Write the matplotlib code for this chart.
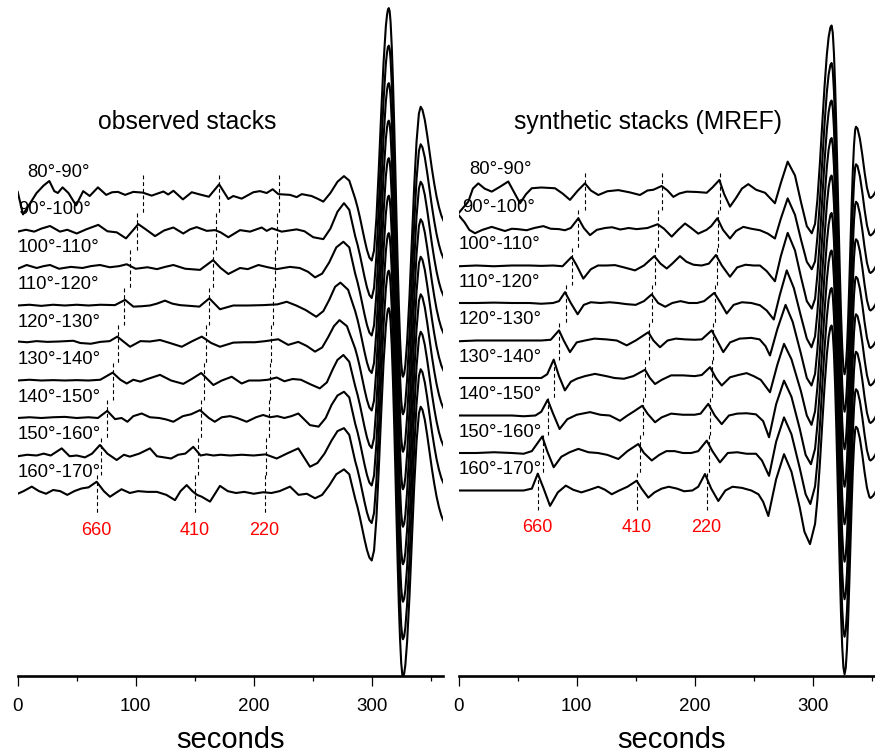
import matplotlib
matplotlib.use("Agg")
import matplotlib.pyplot as plt
import numpy as np

plt.rcParams['font.family'] = ['Liberation Sans', 'DejaVu Sans']

# ---------------- data (time in s, amplitude in trace-spacing units) ----------------
bands = ["80°-90°", "90°-100°", "100°-110°", "110°-120°", "120°-130°",
         "130°-140°", "140°-150°", "150°-160°", "160°-170°"]
phase_names = ["660", "410", "220"]

# observed stacks: wiggles before the main arrival (time, amplitude)
obs_80_90 = [(0, 0.03), (4.5, -0.57), (10, -0.3), (16, 0.0), (22, 0.2), (26.8, 0.32), (31, 0.05),
             (34, 0.0), (38, 0.15), (43, 0.0), (49.5, -0.33), (55.5, 0.05), (61, -0.08), (68, 0.15),
             (75, -0.05), (80, 0.02), (85, 0.03), (91, -0.05), (98, 0.03), (106, 0.01), (113.5, -0.07),
             (123.5, 0.04), (127.5, -0.04), (132, 0.06), (140, -0.17), (147.5, 0.02), (154.5, -0.04),
             (162, -0.1), (170.7, 0.23), (178.5, -0.16), (182.7, -0.08), (189.8, -0.15), (199.7, 0.02),
             (205.3, 0.05), (211, 0.0), (216.1, 0.1), (220.9, -0.03), (230.8, -0.05), (236.4, -0.11),
             (240.7, -0.03), (249, -0.08), (254, -0.15), (259, -0.23), (265, 0.0), (271, 0.3),
             (276.5, 0.45), (281, 0.33)]
obs_90_100 = [(0, -0.03), (7, 0.02), (14, -0.03), (20, 0.05), (27.4, 0.12), (35.8, -0.03), (42, 0.02),
              (50, -0.08), (58, 0.03), (68.3, 0.15), (76, -0.02), (84, -0.05), (91.8, -0.21), (102.2, 0.17),
              (109, 0.02), (116.4, -0.15), (124, 0.0), (131.9, 0.08), (140.3, -0.08), (146, 0.03),
              (151.7, 0.09), (160.2, -0.01), (167.2, 0.01), (172, -0.05), (178.5, -0.18), (188.4, 0.01),
              (196.9, -0.03), (206.8, 0.08), (211, -0.01), (215.3, 0.06), (223.7, -0.03), (236.4, 0.03),
              (243, -0.02), (250.5, -0.18), (259, -0.23), (265, 0.05), (271, 0.5), (276.5, 0.73),
              (281, 0.55)]
obs_100_110 = [(0, -0.02), (7.6, 0.08), (16.1, 0.0), (22, 0.05), (27.4, 0.08), (35, -0.02), (45, 0.03),
               (55, 0.0), (62, 0.05), (69.7, 0.08), (78, 0.02), (86, 0.05), (92.4, 0.1), (100, -0.02),
               (110, 0.02), (118, -0.03), (125, 0.03), (131.9, 0.08), (142, -0.02), (154.5, -0.05),
               (165.6, 0.21), (172, 0.0), (178.5, -0.16), (188.4, 0.0), (195, -0.03), (204, 0.08),
               (212, 0.02), (219.5, -0.03), (225, 0.0), (230.8, 0.03), (239, 0.0), (246, -0.1),
               (252, -0.25), (258, -0.15), (264, 0.15), (270, 0.55), (276, 0.7), (281, 0.55)]
obs_110_120 = [(0, 0.0), (10, 0.02), (20, -0.01), (30, 0.02), (40, 0.0), (50, 0.02), (60, 0.0),
               (70, 0.02), (82.4, 0.01), (91, 0.15), (98, -0.03), (105, -0.02), (112, 0.0), (118, 0.05),
               (124.8, 0.13), (131, 0.05), (137.5, 0.01), (146, -0.01), (154, -0.03), (162.4, 0.19),
               (171.4, -0.1), (182.7, 0.0), (195, 0.0), (208, 0.01), (220, 0.03), (228, 0.1), (236, 0.0),
               (244, -0.12), (253, -0.3), (259, -0.15), (264, 0.15), (269, 0.5), (273.5, 0.61),
               (280, 0.42)]
obs_120_130 = [(0, 0.04), (8, 0.02), (16, 0.05), (25, 0.03), (35, 0.04), (47.1, 0.06), (53, 0.0),
               (62, -0.02), (70, 0.03), (78, 0.05), (84.4, 0.17), (95.2, -0.1), (104, 0.05), (112, 0.04),
               (120.6, 0.08), (129, 0.0), (139, -0.1), (148, 0.05), (156, 0.17), (164, 0.0), (171.4, -0.1),
               (182.7, 0.01), (192, 0.02), (201, 0.02), (210, 0.05), (220.8, 0.1), (229.3, -0.05),
               (237.8, 0.03), (245, -0.08), (252, -0.23), (258, -0.12), (263, 0.15), (268, 0.45),
               (272.7, 0.61), (279, 0.45)]
obs_130_140 = [(0, 0.0), (10, 0.02), (20, 0.0), (30, 0.01), (40, 0.0), (50, 0.01), (60, 0.0), (70, 0.02),
               (80.5, 0.21), (87, 0.02), (92.4, -0.08), (98, 0.02), (104, -0.03), (110, 0.04),
               (120.6, 0.15), (130, 0.0), (140.3, -0.09), (148, 0.05), (155.5, 0.2), (165.8, -0.12),
               (173, 0.0), (181.4, 0.1), (189.8, -0.08), (196, 0.0), (205, 0.0), (212, 0.02),
               (219.5, 0.08), (226, -0.02), (233, 0.04), (240, 0.02), (248, -0.1), (256, -0.21),
               (262, -0.05), (267, 0.3), (271, 0.55), (276, 0.68), (281, 0.5)]
obs_140_150 = [(0, 0.0), (10, 0.02), (20, 0.0), (30, 0.02), (40, 0.03), (50, 0.0), (60, 0.02), (68, 0.0),
               (75.9, 0.19), (82.5, -0.03), (88, 0.0), (93, -0.1), (98, 0.05), (105.1, 0.12), (112, 0.02),
               (120, 0.0), (126, -0.04), (131.9, -0.1), (140, 0.05), (147, 0.1), (154.5, 0.21), (162, 0.0),
               (167, -0.1), (173, 0.02), (180, 0.05), (186, 0.0), (194, -0.1), (202, 0.02), (208, 0.08),
               (214, 0.02), (220, 0.05), (226, 0.0), (232, 0.05), (237.8, 0.12), (247.7, -0.19),
               (255, -0.23), (261, 0.0), (266, 0.35), (271, 0.6), (276.5, 0.7), (281, 0.55)]
obs_150_160 = [(0, -0.02), (8, 0.02), (16, 0.0), (22, 0.05), (28, 0.0), (37.3, 0.19), (44, -0.02),
               (50, 0.0), (57, -0.05), (63, 0.05), (69.7, 0.28), (76, 0.05), (83.9, -0.12), (90, 0.02),
               (95, -0.03), (103, 0.05), (112.1, 0.19), (118, -0.02), (124, -0.05), (130, -0.08),
               (136, 0.02), (142, 0.05), (148.8, 0.23), (155, 0.0), (160, 0.03), (166, 0.0), (172, 0.02),
               (180, 0.0), (190, 0.02), (200, 0.0), (210, 0.03), (219.5, -0.08), (228, 0.05),
               (237.8, 0.19), (247.7, -0.3), (254, -0.2), (260, 0.05), (266, 0.4), (271, 0.65),
               (276.5, 0.73), (281, 0.55)]
obs_160_170 = [(0, -0.02), (5, 0.05), (11.9, 0.17), (18, 0.05), (24, -0.02), (30, 0.08), (36, 0.05),
               (42, -0.05), (48, 0.05), (54, 0.12), (60, 0.15), (66.9, 0.3), (73, 0.05), (78.2, -0.1),
               (84, 0.02), (88, 0.1), (95, 0.0), (102, 0.05), (110, 0.03), (118, 0.03), (126, -0.05),
               (133.3, -0.19), (138, 0.05), (143.2, 0.21), (148, 0.05), (152, -0.05), (156, -0.1),
               (163, -0.23), (171.4, 0.19), (178, 0.05), (185, 0.0), (192, 0.03), (200, -0.02),
               (208, 0.02), (215, 0.0), (222, 0.05), (230.8, 0.17), (238, -0.05), (245, -0.02),
               (252, -0.14), (258, -0.05), (264, 0.2), (270, 0.5), (276.5, 0.63), (281, 0.5)]

# observed: common main arrival
obs_main_t = [286, 288, 290, 292, 294, 296, 298, 300, 302, 304, 306, 308, 310, 312, 313, 313.75, 314.5,
              315.25, 316, 317, 318, 319, 320, 321, 322, 323, 324, 325, 326, 326.5, 327.5, 328.5, 330,
              332, 334, 336, 338, 340, 341.5, 343, 345, 347, 349, 351, 353, 355, 357, 359, 361, 363]
obs_main_v = [-0.15, -0.38, -0.65, -0.95, -1.25, -1.52, -1.72, -1.8, -1.53, -0.67, 0.64, 2.09, 3.45,
              4.45, 4.75, 4.89, 4.93, 4.84, 4.56, 3.91, 3.01, 1.9, 0.66, -0.63, -1.87, -2.98, -3.88,
              -4.53, -4.86, -4.9, -4.82, -4.59, -3.97, -2.77, -1.3, 0.17, 1.37, 2.12, 2.3, 2.22, 1.95,
              1.55, 1.1, 0.65, 0.25, -0.1, -0.38, -0.6, -0.75, -0.85]

# synthetic stacks (MREF)
syn_80_90 = [(0, -0.6), (4, -0.45), (8.1, -0.3), (12, 0.05), (16.6, 0.19), (22, 0.05), (28, -0.03),
             (35, 0.1), (42, 0.24), (47, -0.05), (52, -0.34), (57, -0.1), (61.9, 0.06), (70, 0.08),
             (81.6, 0.06), (88, -0.08), (94.3, -0.25), (101, 0.0), (107, 0.19), (112, 0.0),
             (118.3, -0.12), (126, -0.02), (135.3, 0.01), (145, -0.05), (153.6, -0.12), (160, 0.0),
             (165, 0.02), (172, 0.12), (177, 0.0), (181.9, -0.17), (187, -0.08), (193.2, -0.03),
             (202, -0.04), (210.2, -0.06), (215, 0.08), (220.9, 0.28), (225, -0.1), (229.9, -0.43),
             (235, -0.2), (240, 0.05), (245.4, 0.17), (252, 0.02), (259.6, -0.06), (268, -0.34),
             (273, 0.2), (278.8, 0.77), (285, 0.4), (290, -0.3), (295, -0.95), (299.2, -1.14)]
syn_90_100 = [(0, 0.34), (5, 0.15), (9, -0.05), (13.8, -0.14), (20, -0.05), (28, 0.03), (33, -0.02),
              (39.2, -0.08), (45, -0.02), (50, -0.03), (57.6, -0.06), (64, 0.0), (71.7, 0.05), (78, -0.02),
              (85, -0.03), (90, -0.06), (95, 0.0), (101.4, 0.26), (106, 0.0), (111.3, -0.19), (117, -0.05),
              (124, 0.0), (130, 0.02), (137, -0.04), (144, 0.0), (150.8, -0.03), (160, 0.0),
              (168.6, 0.1), (174, -0.02), (180.5, -0.23), (186, -0.05), (191.8, 0.12), (197, 0.0),
              (203, -0.15), (210, -0.05), (214, 0.05), (219.2, 0.26), (224, -0.05), (229.9, -0.28),
              (235, -0.08), (241.2, 0.03), (248, -0.02), (255.3, -0.06), (262, -0.15), (268, -0.28),
              (273, 0.25), (278.8, 0.79), (285, 0.35), (290, -0.3), (295, -0.9), (299.2, -1.1)]
syn_100_110 = [(0, -0.02), (15, 0.0), (30, -0.02), (45, 0.0), (60, 0.0), (70, -0.01), (80, 0.0),
               (88, -0.02), (95.8, 0.23), (100, 0.0), (105.6, -0.35), (112, -0.1), (118, 0.0), (125, 0.0),
               (132.5, 0.01), (140, -0.05), (149.4, -0.13), (157, 0.0), (165.8, 0.25), (171, 0.05),
               (176.3, -0.08), (181, 0.05), (187.5, 0.25), (193, 0.1), (199, 0.02), (205.9, 0.0),
               (212, 0.05), (218, 0.28), (223, 0.0), (229.9, -0.3), (236, -0.05), (243, 0.02), (250, 0.0),
               (255.3, 0.0), (261, -0.15), (268, -0.42), (273, 0.25), (278.8, 0.87), (285, 0.4),
               (290, -0.3), (295, -0.95), (299.2, -1.15)]
syn_110_120 = [(0, 0.0), (15, 0.0), (30, 0.01), (45, 0.0), (60, 0.0), (70, -0.02), (80, 0.0), (85, 0.05),
               (90.1, 0.29), (95, 0.0), (100.8, -0.3), (106, -0.05), (112, 0.02), (120, 0.0), (128, 0.02),
               (135, 0.0), (142, -0.03), (150, -0.05), (157, 0.05), (163.6, 0.23), (169, 0.0), (175, -0.1),
               (181, 0.0), (188, 0.05), (195, 0.0), (202, 0.0), (208, 0.05), (216.6, 0.27), (222, 0.0),
               (227.1, -0.28), (233, -0.05), (240, 0.02), (248, 0.0), (255.3, -0.06), (261, -0.2),
               (267, -0.44), (272, 0.2), (278, 0.87), (284, 0.4), (290, -0.35), (295, -0.95), (299, -1.18)]
syn_120_130 = [(0, -0.02), (15, 0.0), (30, 0.0), (45, 0.0), (60, 0.0), (70, 0.0), (78, 0.02), (85, 0.27),
               (89, 0.0), (94.3, -0.31), (100, -0.05), (107, 0.0), (115, 0.05), (125, 0.03), (134, 0.0),
               (142.4, -0.13), (150, 0.0), (160.7, 0.22), (165, 0.0), (170.6, -0.18), (177, 0.0),
               (184, 0.05), (192, 0.03), (200, 0.02), (206, 0.03), (214.4, 0.27), (219, 0.0),
               (224.2, -0.31), (230, -0.05), (238, 0.05), (248, 0.07), (255, 0.03), (260, -0.15),
               (263.8, -0.4), (270, 0.3), (277, 0.95), (283, 0.5), (290, -0.35), (295, -1.0), (299, -1.2)]
syn_130_140 = [(0, 0.0), (15, 0.0), (30, 0.0), (45, 0.0), (60, 0.0), (70, 0.0), (75, 0.1), (80.5, 0.49),
               (85, 0.05), (90, -0.33), (95, -0.1), (100, -0.02), (107, 0.05), (115.5, 0.11), (125, 0.05),
               (132, 0.0), (140, -0.02), (148, 0.05), (157.9, 0.22), (162, 0.0), (166.4, -0.16),
               (172, -0.05), (180, 0.07), (190, 0.07), (200, 0.05), (206, 0.08), (213, 0.29), (218, 0.0),
               (222.9, -0.2), (230, 0.02), (237, 0.08), (244, 0.13), (250, 0.05), (256, -0.05),
               (263.8, -0.38), (270, 0.35), (275.7, 0.91), (282, 0.5), (290, -0.35), (295, -1.0),
               (299, -1.25)]
syn_140_150 = [(0, 0.0), (15, 0.0), (30, 0.0), (45, 0.0), (55, -0.02), (65, 0.0), (70, 0.1), (75.4, 0.42),
               (80, 0.05), (85.5, -0.36), (92, -0.1), (100, 0.02), (111.3, 0.09), (120, 0.02), (128, 0.0),
               (136.7, -0.14), (143, 0.0), (149, 0.12), (155.6, 0.26), (160, 0.05), (166.4, -0.18),
               (172, -0.05), (180, 0.05), (190, 0.02), (200, 0.02), (205, 0.05), (211.5, 0.31), (217, 0.0),
               (222.9, -0.23), (229, 0.0), (236, 0.05), (244, 0.06), (252, 0.03), (258, -0.15),
               (263, -0.58), (269, 0.3), (275.7, 0.93), (282, 0.5), (289, -0.35), (294, -1.05),
               (298.5, -1.3)]
syn_150_160 = [(0, 0.0), (15, 0.0), (30, 0.02), (45, 0.0), (55, -0.02), (62, 0.05), (70.8, 0.44),
               (75, 0.05), (80.5, -0.38), (87, -0.1), (94, 0.02), (101.4, 0.11), (110, 0.02), (118, 0.0),
               (126, -0.05), (135.3, -0.16), (143, 0.05), (152.2, 0.24), (157, 0.0), (163.6, -0.2),
               (170, -0.05), (176, 0.05), (183, 0.05), (190, 0.0), (197, 0.0), (203, 0.05), (210.2, 0.33),
               (215, 0.05), (221.4, -0.25), (228, 0.0), (236, 0.02), (244, -0.02), (252, -0.02),
               (257, -0.2), (263, -0.61), (269, 0.3), (275.7, 0.95), (282, 0.5), (289, -0.4), (294, -1.1),
               (298, -1.36)]
syn_160_170 = [(0, 0.0), (15, 0.0), (30, 0.0), (45, 0.0), (55, 0.0), (62, 0.05), (67, 0.45), (72, 0.05),
               (77.4, -0.41), (84, -0.05), (90.8, 0.13), (97, 0.02), (104, -0.05), (111, 0.02),
               (118.3, 0.1), (124, 0.02), (129.7, -0.1), (136, 0.0), (143, 0.1), (150.8, 0.26),
               (155, 0.05), (160.7, -0.19), (166, -0.05), (172, 0.05), (178, 0.1), (185, 0.05),
               (191, -0.02), (198, 0.0), (203, 0.1), (208.7, 0.44), (214, 0.05), (220, -0.28), (226, 0.0),
               (232, 0.1), (240, 0.07), (248, 0.0), (254, -0.1), (258, -0.3), (262.4, -0.68), (269, 0.3),
               (275.7, 0.97), (282, 0.5), (289, -0.45), (293, -1.1), (297.7, -1.43)]

syn_main_t = [302, 304, 306, 308, 310, 312, 313.5, 315, 316, 317, 318, 319, 320, 321, 322, 323, 324, 325,
              326, 327, 328, 329, 330, 331, 332, 333, 334, 335, 336, 336.7, 338, 340, 342, 344, 346, 348,
              349, 351, 353, 355, 358, 362]
syn_main_v = [-0.89, -0.24, 0.68, 1.73, 2.76, 3.63, 4.09, 4.35, 4.4, 4.21, 3.66, 2.8, 1.68, 0.41, -0.91,
              -2.18, -3.3, -4.16, -4.71, -4.9, -4.73, -4.24, -3.47, -2.5, -1.44, -0.4, 0.52, 1.21, 1.62,
              1.7, 1.65, 1.38, 0.96, 0.48, 0.07, -0.17, -0.2, -0.15, -0.05, 0.1, 0.3, 0.5]

# picked arrival times (s) of the 660, 410 and 220 phases, per distance band
obs_p660 = [106.2, 101.2, 95.2, 90.1, 85.0, 80.4, 75.6, 71.0, 66.9]
obs_p410 = [170.8, 168.3, 165.4, 162.3, 159.8, 158.1, 155.2, 152.7, 150.4]
obs_p220 = [221.2, 219.8, 218.4, 216.7, 215.0, 214.2, 212.7, 210.8, 209.3]
syn_p660 = [107.0, 101.5, 95.9, 90.8, 85.4, 80.6, 76.0, 71.2, 67.0]
syn_p410 = [171.9, 168.8, 166.2, 164.0, 161.1, 158.3, 156.0, 153.4, 151.2]
syn_p220 = [221.6, 219.8, 218.7, 217.3, 215.6, 214.5, 213.0, 211.7, 210.0]

obs_traces = [obs_80_90, obs_90_100, obs_100_110, obs_110_120, obs_120_130,
              obs_130_140, obs_140_150, obs_150_160, obs_160_170]
syn_traces = [syn_80_90, syn_90_100, syn_100_110, syn_110_120, syn_120_130,
              syn_130_140, syn_140_150, syn_150_160, syn_160_170]

# ---------------- figure ----------------
W, H = 875, 754
fig = plt.figure(figsize=(W / 100, H / 100), dpi=100)

PX = 37.5      # pixels per trace spacing
SPX = 1.18     # pixels per second
axis_y = 676   # pixel row of the time axis


def make_axes(x0_px, base_px):
    ax = fig.add_axes([x0_px / W, (H - axis_y) / H, 360.4 * SPX / W, axis_y / H])
    top = base_px / PX
    ax.set_ylim(top - axis_y / PX, top)
    ax.set_xlim(0, 360.4)
    for s in ("left", "right", "top"):
        ax.spines[s].set_visible(False)
    ax.spines["bottom"].set_linewidth(1.9)
    ax.set_yticks([])
    ax.set_xticks([0, 100, 200, 300])
    ax.set_xticks([50, 150, 250, 350], minor=True)
    ax.tick_params(axis="x", which="major", length=7.5, width=0.9, labelsize=13.5, pad=8.5)
    ax.tick_params(axis="x", which="minor", length=3.8, width=0.9)
    ax.patch.set_alpha(0)
    return ax


def draw_panel(ax, traces, main_t, main_v, picks, title, title_t, title_y, label_dx):
    for i, tr in enumerate(traces):
        t = [p[0] for p in tr] + list(main_t)
        v = np.array([p[1] for p in tr] + list(main_v)) - i
        ax.plot(t, v, color="black", lw=1.5, solid_joinstyle="round", zorder=3)
        ax.text(label_dx.get(i, 0.0), -i + 0.55, bands[i], fontsize=13.3,
                ha="left", va="center", zorder=4)
    for pk in picks:
        for i, tp in enumerate(pk):
            ax.plot([tp, tp], [-i + 0.48, -i - 0.52], color="black", lw=0.8,
                    linestyle=(0, (3.5, 2.5)), zorder=2)
    for name, pk in zip(phase_names, picks):
        ax.text(pk[-1], -9.0, name, color="red", fontsize=13, ha="center", va="center")
    ax.text(title_t, title_y, title, fontsize=17.8, ha="center", va="center")
    ax.text(0.5, -0.094, "seconds", transform=ax.transAxes, fontsize=21,
            ha="center", va="center")


ax1 = make_axes(17.7, 193)
draw_panel(ax1, obs_traces, obs_main_t, obs_main_v, [obs_p660, obs_p410, obs_p220],
           "observed stacks", 144, 1.89, {0: 8.0})

ax2 = make_axes(458.7, 190.5)
draw_panel(ax2, syn_traces, syn_main_t, syn_main_v, [syn_p660, syn_p410, syn_p220],
           "synthetic stacks (MREF)", 160.4, 1.83, {0: 8.7, 1: 2.8})

fig.savefig("out.png", dpi=100)
